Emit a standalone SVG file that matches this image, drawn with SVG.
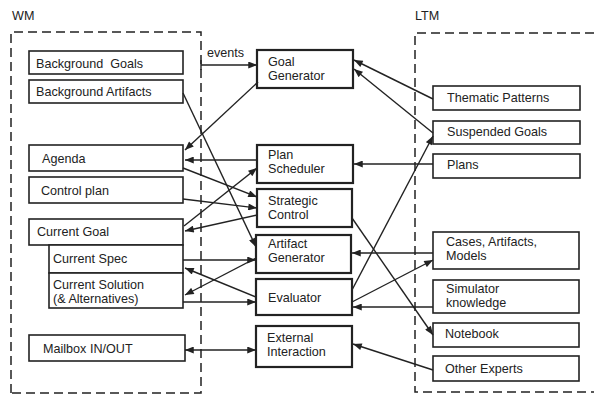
<svg xmlns="http://www.w3.org/2000/svg" width="594" height="396" viewBox="0 0 594 396">
<style>
text{font-family:"Liberation Sans",Arial,sans-serif;font-size:12.6px;fill:#222}
.b{fill:#fff;stroke:#222;stroke-width:1.6}
.m{fill:#fff;stroke:#222;stroke-width:2.2}
.d{fill:none;stroke:#222;stroke-width:1.5;stroke-dasharray:9 5}
.c line,.c path{stroke:#222;stroke-width:1.4;fill:none}
.e{marker-end:url(#a)}
.s{marker-start:url(#a)}
</style>
<defs>
<marker id="a" viewBox="0 0 10 8" refX="10" refY="4" markerWidth="10" markerHeight="7" markerUnits="userSpaceOnUse" orient="auto-start-reverse">
<path d="M0,0 L10,4 L0,8 z" fill="#222"/>
</marker>
</defs>
<rect width="594" height="396" fill="#fff"/>

<g id="wm">
<text x="12" y="20">WM</text>
<path class="d" d="M11,393 V32 H201 V393 H11"/>
</g>
<g id="ltm">
<text x="415" y="20">LTM</text>
<path class="d" d="M594,33 H415 V392 H594"/>
</g>

<g id="bg-goals"><rect class="b" x="29" y="51" width="154" height="23"/><text x="36" y="68" xml:space="preserve">Background  Goals</text></g>
<g id="bg-artifacts"><rect class="b" x="29" y="80" width="154" height="23"/><text x="36" y="96">Background Artifacts</text></g>
<g id="agenda"><rect class="b" x="29" y="145" width="154" height="26"/><text x="42" y="163">Agenda</text></g>
<g id="control-plan"><rect class="b" x="29" y="177" width="154" height="26"/><text x="41" y="195">Control plan</text></g>
<g id="current-goal"><rect class="b" x="29" y="219" width="154" height="26"/><text x="37" y="236">Current Goal</text></g>
<g id="current-spec"><rect class="b" x="49" y="245" width="134" height="28"/><text x="53" y="263">Current Spec</text></g>
<g id="current-solution"><rect class="b" x="49" y="273" width="134" height="35"/><text x="53" y="289">Current Solution</text><text x="53" y="303">(&amp; Alternatives)</text></g>
<g id="mailbox"><rect class="b" x="29" y="335" width="156" height="26"/><text x="43" y="353">Mailbox IN/OUT</text></g>

<g id="goal-generator"><rect class="m" x="257" y="50" width="96" height="38"/><text x="268" y="66">Goal</text><text x="268" y="80">Generator</text></g>
<g id="plan-scheduler"><rect class="m" x="257" y="145" width="96" height="38"/><text x="268" y="159">Plan</text><text x="268" y="173">Scheduler</text></g>
<g id="strategic-control"><rect class="m" x="257" y="189" width="95" height="38"/><text x="268" y="205">Strategic</text><text x="268" y="219">Control</text></g>
<g id="artifact-generator"><rect class="m" x="256" y="235" width="95" height="38"/><text x="268" y="248">Artifact</text><text x="268" y="262">Generator</text></g>
<g id="evaluator"><rect class="m" x="256" y="279" width="96" height="36"/><text x="268" y="302">Evaluator</text></g>
<g id="external-interaction"><rect class="m" x="256" y="326" width="96" height="41"/><text x="267" y="342">External</text><text x="267" y="356">Interaction</text></g>

<g id="thematic-patterns"><rect class="b" x="433" y="86" width="147" height="24"/><text x="447" y="102">Thematic Patterns</text></g>
<g id="suspended-goals"><rect class="b" x="433" y="121" width="147" height="23"/><text x="447" y="136">Suspended Goals</text></g>
<g id="plans"><rect class="b" x="433" y="154" width="147" height="24"/><text x="447" y="169">Plans</text></g>
<g id="cases"><rect class="b" x="433" y="232" width="146" height="37"/><text x="446" y="246">Cases, Artifacts,</text><text x="446" y="260">Models</text></g>
<g id="simulator"><rect class="b" x="433" y="280" width="146" height="33"/><text x="446" y="293">Simulator</text><text x="446" y="307">knowledge</text></g>
<g id="notebook"><rect class="b" x="433" y="323" width="146" height="24"/><text x="445" y="338">Notebook</text></g>
<g id="other-experts"><rect class="b" x="433" y="356" width="146" height="25"/><text x="445" y="373">Other Experts</text></g>

<g id="connectors" class="c">
<text x="207" y="57">events</text>
<line x1="201" y1="60" x2="201" y2="70"/>
<line class="e" x1="201" y1="65" x2="257" y2="65"/>
<line class="e" x1="258" y1="82" x2="185" y2="150"/>
<line class="e" x1="183" y1="93" x2="256" y2="247"/>
<line class="e" x1="257" y1="160" x2="185" y2="160"/>
<line class="e" x1="183" y1="168" x2="257" y2="197"/>
<line class="e" x1="183" y1="199" x2="257" y2="208"/>
<line class="e" x1="257" y1="215" x2="185" y2="231"/>
<line class="e" x1="184" y1="226" x2="257" y2="168"/>
<line class="e" x1="183" y1="260" x2="256" y2="260"/>
<line class="e" x1="256" y1="297" x2="185" y2="268"/>
<line class="e" x1="256" y1="258" x2="185" y2="295"/>
<line class="e" x1="183" y1="302" x2="256" y2="302"/>
<line class="e s" x1="185" y1="350" x2="256" y2="350"/>
<line class="e" x1="433" y1="99" x2="354" y2="60"/>
<line class="e" x1="433" y1="133" x2="354" y2="69"/>
<line class="e" x1="433" y1="164" x2="354" y2="164"/>
<line class="e" x1="352" y1="290" x2="433" y2="136"/>
<line class="e" x1="352" y1="218" x2="433" y2="335"/>
<line class="e" x1="433" y1="253" x2="352" y2="253"/>
<line class="e" x1="352" y1="302" x2="433" y2="260"/>
<line class="e" x1="433" y1="307" x2="353" y2="307"/>
<line class="e" x1="433" y1="370" x2="353" y2="344"/>
</g>
</svg>
